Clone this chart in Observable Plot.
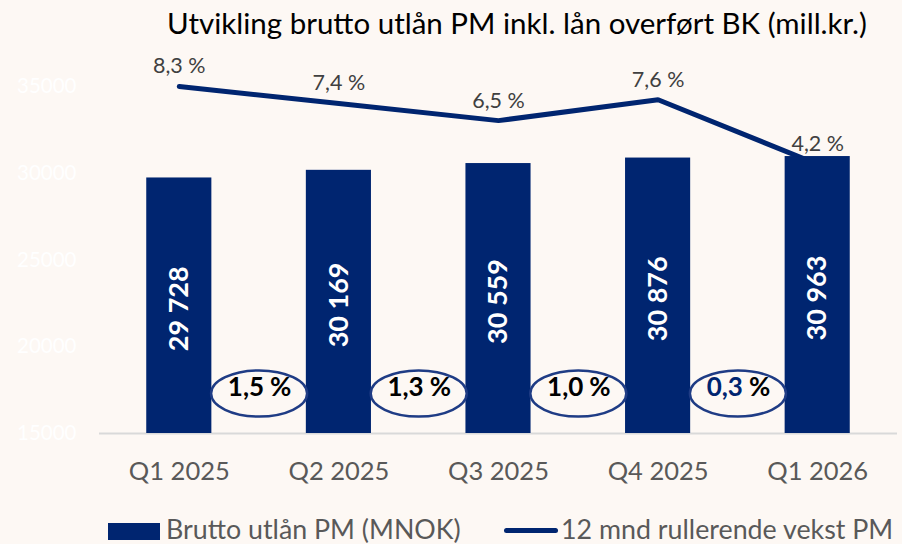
<!DOCTYPE html>
<html>
<head>
<meta charset="utf-8">
<script src="https://cdn.jsdelivr.net/npm/d3@7"></script>
<script src="https://cdn.jsdelivr.net/npm/@observablehq/plot@0.6"></script>
<style>
  html, body { margin: 0; padding: 0; background: #FDF8F4; }
  body { width: 902px; height: 544px; overflow: hidden; font-family: Lato, "Noto Sans", sans-serif; }
  #title { height: 46px; width: 770px; padding-left: 132px; text-align: center; font-size: 29.5px; color: #000; line-height: 46px; white-space: nowrap; }
  #legend { position: relative; height: 28px; width: 902px; }
  #legend .t { position: absolute; top: 0; font-size: 26.8px; line-height: 26px; color: #595959; white-space: nowrap; }
</style>
</head>
<body>
<div id="title">Utvikling brutto utlån PM inkl. lån overført BK (mill.kr.)</div>
<div id="chart"></div>
<div id="legend">
  <div style="position:absolute;left:108px;top:7px;width:52px;height:17px;background:#002570"></div>
  <span class="t" style="left:166px">Brutto utlån PM (MNOK)</span>
  <div style="position:absolute;left:504px;top:12px;width:54px;height:5px;border-radius:3px;background:#002570"></div>
  <span class="t" style="left:561px">12 mnd rullerende vekst PM</span>
</div>
<script>
// ---- data ----
const quarters = ["Q1 2025", "Q2 2025", "Q3 2025", "Q4 2025", "Q1 2026"];
const lending = [29728, 30169, 30559, 30876, 30963];      // Brutto utlån PM (MNOK)
const growth12m = [8.3, 7.4, 6.5, 7.6, 4.2];             // 12 mnd rullerende vekst PM (%)
const qoqGrowth = [1.5, 1.3, 1.0, 0.3];                  // kvartalsvekst (%) between quarters
const qoqHighlight = [false, false, false, true];
const yTicks = [15000, 20000, 25000, 30000, 35000];
const yDomain = [15000, 35000];
const growthAxisDomain = [-10, 8.3];                     // secondary axis extent

// ---- helpers ----
const navy = "#002570";
const fmtNum = v => d3.format(",")(v).replace(/,/g, " ");
const fmtPct = g => g.toFixed(1).replace(".", ",");
const growthToPrimary = d3.scaleLinear().domain(growthAxisDomain).range(yDomain);

const bars = quarters.map((q, i) => ({i, q, v: lending[i]}));
const line = quarters.map((q, i) => ({i, g: growthToPrimary(growth12m[i]), label: fmtPct(growth12m[i]) + " %"}));
const qoq = qoqGrowth.map((g, i) => ({pos: i + 0.5, label: fmtPct(g), hl: qoqHighlight[i]}));

const halfBar = 0.204;
const ellipse = {
  draw(ctx) {
    const rx = 48, ry = 23, k = 0.5523;
    ctx.moveTo(rx, 0);
    ctx.bezierCurveTo(rx, ry * k, rx * k, ry, 0, ry);
    ctx.bezierCurveTo(-rx * k, ry, -rx, ry * k, -rx, 0);
    ctx.bezierCurveTo(-rx, -ry * k, -rx * k, -ry, 0, -ry);
    ctx.bezierCurveTo(rx * k, -ry, rx, -ry * k, rx, 0);
    ctx.closePath();
  }
};

const chart = Plot.plot({
  width: 902,
  height: 470,
  marginLeft: 99,
  marginRight: 5,
  marginTop: 40,
  marginBottom: 83,
  style: {background: "transparent", fontFamily: "Lato, 'Noto Sans', sans-serif", overflow: "visible"},
  x: {domain: [-0.5, quarters.length - 0.5], axis: null},
  y: {domain: yDomain, axis: null},
  marks: [
    Plot.axisY(yTicks, {tickSize: 0, tickPadding: 23, fontSize: 20.5, fill: "#ffffff", tickFormat: d => String(d), label: null}),
    Plot.axisX(d3.range(quarters.length), {tickSize: 0, tickPadding: 28, fontSize: 25.5, fill: "#595959", tickFormat: i => quarters[i], label: null}),
    Plot.ruleY([yDomain[0]], {stroke: "#d9d9d9", strokeWidth: 2}),
    Plot.line(line, {x: "i", y: "g", stroke: navy, strokeWidth: 5, strokeLinecap: "round", strokeLinejoin: "miter"}),
    Plot.rectY(bars, {x1: d => d.i - halfBar, x2: d => d.i + halfBar, y1: yDomain[0], y2: "v", fill: navy}),
    Plot.text(bars, {x: "i", y: d => (d.v + yDomain[0]) / 2, dy: 3, text: d => fmtNum(d.v), rotate: -90, fill: "white", fontWeight: "bold", fontSize: 27}),
    Plot.dot(qoq, {x: "pos", frameAnchor: "bottom", dy: -40, symbol: ellipse, fill: "#FDF8F4", stroke: "#1f3c85", strokeWidth: 2.5}),
    Plot.text(qoq, {x: "pos", frameAnchor: "bottom", dy: -38, dx: 5, text: "label", textAnchor: "end", fill: d => d.hl ? navy : "#000", fontWeight: "bold", fontSize: 26}),
    Plot.text(qoq, {x: "pos", frameAnchor: "bottom", dy: -38, dx: 11, text: () => "%", textAnchor: "start", fill: "#000", fontWeight: "bold", fontSize: 26}),
    Plot.text(line, {x: "i", y: "g", dy: -20, text: "label", fill: "#404040", fontSize: 21.5})
  ]
});
document.getElementById("chart").appendChild(chart);
</script>
</body>
</html>
